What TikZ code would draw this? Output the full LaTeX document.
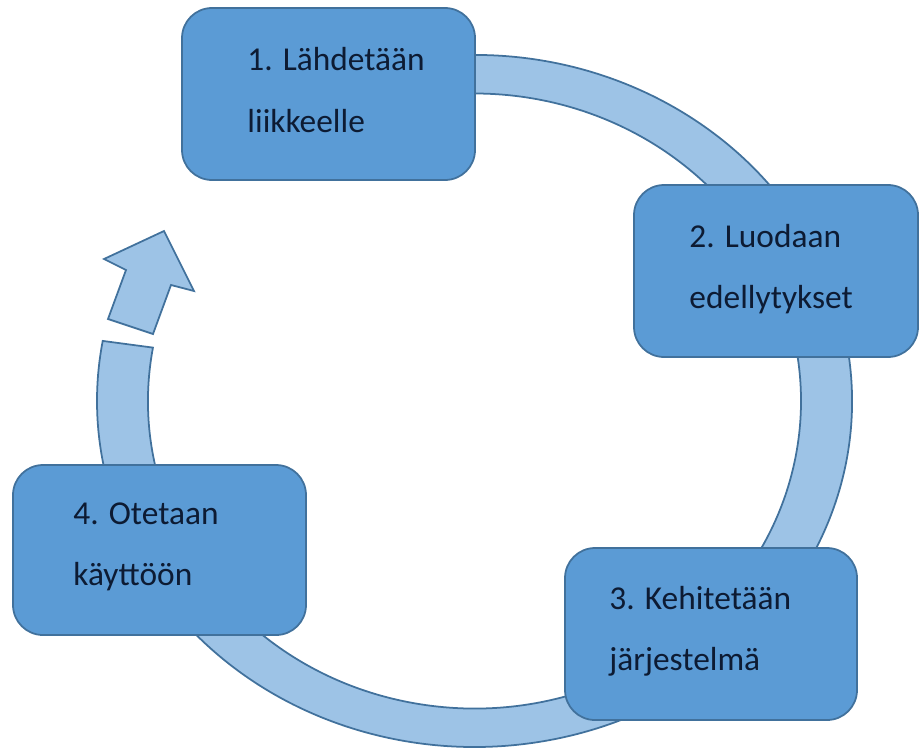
\documentclass[tikz,border=0pt]{standalone}
\usepackage{fontspec}
\setmainfont{Carlito}
\usepackage{tikz}
\usetikzlibrary{positioning,calc}
\definecolor{boxblue}{HTML}{5B9BD5}
\definecolor{edgeblue}{HTML}{41719C}
\definecolor{ringblue}{HTML}{9DC3E6}
\definecolor{textnavy}{HTML}{0D1B33}

\begin{document}
\begin{tikzpicture}
    \tikzstyle{stepbox} = [rectangle, rounded corners=0.6cm, draw=edgeblue, line width=1pt, fill=boxblue, minimum height=3.44cm]
    \tikzstyle{steptext} = [anchor=west, align=left, inner xsep=0pt, text=textnavy, font=\fontsize{19}{34.8}\selectfont]
    \tikzstyle{ring} = [draw=edgeblue, line width=1pt, fill=ringblue]

    \useasboundingbox (0,0) rectangle (18.4,-14.98);

    % Ring round the cycle
    \draw[ring] (9.49,-8.02) ++(100:7.55 and 6.92)
        arc[start angle=100, end angle=-190, x radius=7.55, y radius=6.92]
        -- ($(9.49,-8.02)+(-190:6.53 and 6.15)$)
        arc[start angle=-190, end angle=100, x radius=6.53, y radius=6.15] -- cycle;

    % Arrow head
    \draw[ring] (2.16,-6.38) -- (2.52,-5.40) -- (2.08,-5.18) -- (3.28,-4.62)
        -- (3.88,-5.82) -- (3.42,-5.70) -- (3.06,-6.68) -- cycle;

    % Step 1
    \node[stepbox, minimum width=5.86cm] (lahde) at (6.57,-1.88) {};
    \node[steptext, right=1.32cm of lahde.west, yshift=0.08cm] (lahdetxt) {1. Lähdetään\\liikkeelle};

    % Step 2
    \node[stepbox, minimum width=5.68cm] (luoda) at (15.52,-5.42) {};
    \node[steptext, right=1.12cm of luoda.west, yshift=0.04cm] (luodatxt) {2. Luodaan\\edellytykset};

    % Step 3
    \node[stepbox, minimum width=5.84cm] (kehite) at (14.22,-12.68) {};
    \node[steptext, right=0.90cm of kehite.west, yshift=0.06cm] (kehitetxt) {3. Kehitetään\\järjestelmä};

    % Step 4
    \node[stepbox, minimum width=5.86cm, minimum height=3.40cm] (otet) at (3.19,-11.0) {};
    \node[steptext, right=1.22cm of otet.west, yshift=0.06cm] (otettxt) {4. Otetaan\\käyttöön};

\end{tikzpicture}
\end{document}
